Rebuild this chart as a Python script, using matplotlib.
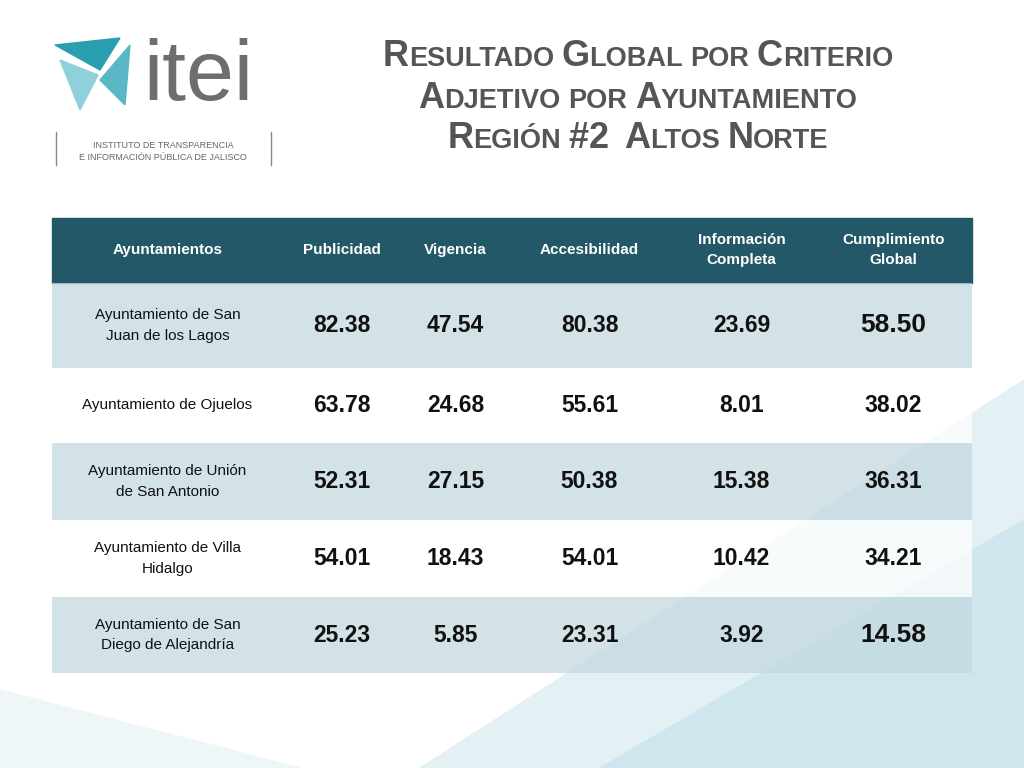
import matplotlib
matplotlib.use("Agg")
import matplotlib.pyplot as plt
from matplotlib.patches import Rectangle, Polygon

plt.rcParams["font.family"] = "Liberation Sans"

# data
headers = ["Ayuntamientos", "Publicidad", "Vigencia", "Accesibilidad",
           "Información\nCompleta", "Cumplimiento\nGlobal"]
ayuntamientos = ["Ayuntamiento de San\nJuan de los Lagos", "Ayuntamiento de Ojuelos",
                 "Ayuntamiento de Unión\nde San Antonio", "Ayuntamiento de Villa\nHidalgo",
                 "Ayuntamiento de San\nDiego de Alejandría"]
publicidad = ["82.38", "63.78", "52.31", "54.01", "25.23"]
vigencia = ["47.54", "24.68", "27.15", "18.43", "5.85"]
accesibilidad = ["80.38", "55.61", "50.38", "54.01", "23.31"]
informacion = ["23.69", "8.01", "15.38", "10.42", "3.92"]
cumplimiento = ["58.50", "38.02", "36.31", "34.21", "14.58"]
title_lines = ["Resultado Global por Criterio", "Adjetivo por Ayuntamiento",
               "Región #2  Altos Norte"]

fig = plt.figure(figsize=(10.24, 7.68), dpi=100)
ax = fig.add_axes([0, 0, 1, 1])
ax.set_xlim(0, 1024)
ax.set_ylim(768, 0)
ax.axis("off")

# background waves
ax.add_patch(Polygon([(420, 768), (1024, 380), (1024, 768)], color="#e3f0f4", zorder=0))
ax.add_patch(Polygon([(600, 768), (1024, 520), (1024, 768)], color="#cfe6ee", zorder=0))
ax.add_patch(Polygon([(0, 690), (300, 768), (0, 768)], color="#eef6f8", zorder=0))

# logo
ax.add_patch(Polygon([(55, 45), (120, 38), (100, 70)], color="#2a9fb0"))
ax.add_patch(Polygon([(60, 60), (98, 75), (80, 110)], color="#8fd0da"))
ax.add_patch(Polygon([(100, 80), (130, 45), (125, 105)], color="#5ab8c6"))
ax.text(143, 78, "itei", fontsize=62, color="#6d6e70",
        va="center", ha="left")
ax.plot([56, 56], [132, 165], color="#888888", lw=1)
ax.plot([271, 271], [132, 165], color="#888888", lw=1)
ax.text(163, 146, "INSTITUTO DE TRANSPARENCIA", fontsize=6.5, color="#666666", ha="center", va="center")
ax.text(163, 157, "E INFORMACIÓN PÚBLICA DE JALISCO", fontsize=6.5, color="#666666", ha="center", va="center")

# small caps title
fig.canvas.draw()
renderer = fig.canvas.get_renderer()
for yc, line in zip([55, 97, 137], title_lines):
    chunks = []
    for word in line.split(" "):
        if word == "":
            chunks.append((" ", 19.5))
            continue
        if word[0].isupper() or not word[0].isalpha():
            chunks.append((word[0].upper(), 26))
            rest = word[1:]
        else:
            rest = word
        if rest:
            chunks.append((rest.upper(), 26 if rest.isdigit() else 19.5))
        chunks.append((" ", 19.5))
    chunks = chunks[:-1]
    texts = []
    for s, size in chunks:
        texts.append(ax.text(0, yc, s, fontsize=size, color="#555555",
                             fontweight="bold", va="baseline", ha="left"))
    widths = []
    for t in texts:
        bb = t.get_window_extent(renderer)
        widths.append(bb.width * 1024 / fig.bbox.width)
    x = 638 - sum(widths) / 2
    for t, w in zip(texts, widths):
        t.set_position((x, yc + 11))
        x += w

# table
col_edges = [52, 283, 400, 511, 668, 815, 972]
row_edges = [218, 283, 368, 443, 520, 597, 673]
row_colors = ["#c3d9e0", "#ffffff", "#c3d9e0", "#ffffff", "#c3d9e0"]
ax.add_patch(Rectangle((52, 218), 920, 65, color="#235868", zorder=1))
for j, h in enumerate(headers):
    xc = (col_edges[j] + col_edges[j + 1]) / 2
    ax.text(xc, 250, h, color="white", fontsize=11, fontweight="bold",
            ha="center", va="center", linespacing=1.6, zorder=2)
columns = [publicidad, vigencia, accesibilidad, informacion, cumplimiento]
for i in range(len(ayuntamientos)):
    y0, y1 = row_edges[i + 1], row_edges[i + 2]
    ax.add_patch(Rectangle((52, y0), 920, y1 - y0, color=row_colors[i],
                           alpha=0.75, zorder=1, lw=0))
    yc = (y0 + y1) / 2
    ax.text((col_edges[0] + col_edges[1]) / 2, yc, ayuntamientos[i], fontsize=11,
            ha="center", va="center", linespacing=1.6, color="#111111", zorder=2)
    for j, col in enumerate(columns):
        xc = (col_edges[j + 1] + col_edges[j + 2]) / 2
        size = 19 if (j == 4 and i in (0, 4)) else 16.5
        ax.text(xc, yc, col[i], fontsize=size, fontweight="bold",
                ha="center", va="center", color="#111111", zorder=2)

fig.savefig("out.png", dpi=100)
